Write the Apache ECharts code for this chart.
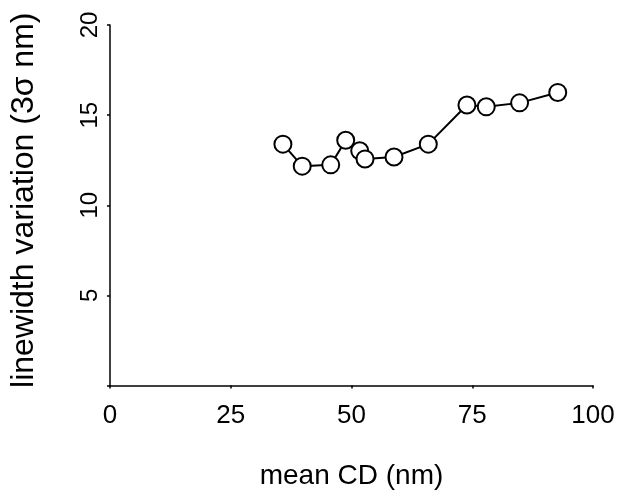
<!DOCTYPE html>
<html>
<head>
<meta charset="utf-8">
<script src="https://cdn.jsdelivr.net/npm/echarts@6/dist/echarts.min.js"></script>
<style>html,body{margin:0;padding:0;background:#fff}#c{width:619px;height:491px}</style>
</head>
<body>
<div id="c"></div>
<script>
var meanCD = [35.8, 39.8, 45.7, 48.8, 51.7, 52.8, 58.8, 65.9, 73.9, 77.9, 84.8, 92.7];
var variation = [13.39, 12.17, 12.24, 13.61, 13.02, 12.57, 12.68, 13.39, 15.56, 15.46, 15.68, 16.26];
var xTicks = [0, 25, 50, 75, 100];
var yTicks = [5, 10, 15, 20];

var pts = meanCD.map(function (x, i) { return [x, variation[i]]; });
var font = '"Liberation Sans", Arial, Helvetica, sans-serif';
var chart = echarts.init(document.getElementById('c'), null, {renderer: 'canvas'});
chart.setOption({
  animation: false,
  backgroundColor: '#fff',
  grid: {left: 110, right: 26, top: 25, bottom: 105.5, containLabel: false, outerBoundsMode: 'none'},
  xAxis: {
    type: 'value', min: 0, max: 100, interval: 25,
    name: 'mean CD (nm)', nameLocation: 'middle', nameGap: 77,
    nameTextStyle: {fontFamily: font, fontSize: 28, color: '#000'},
    axisLine: {show: true, lineStyle: {color: '#000', width: 1.5}},
    axisTick: {show: true, length: 3, lineStyle: {color: '#000', width: 1.5}},
    axisLabel: {fontFamily: font, fontSize: 26, color: '#000', margin: 17,
      formatter: function (v) { return xTicks.indexOf(v) >= 0 ? String(v) : ''; }},
    splitLine: {show: false}
  },
  yAxis: {
    type: 'value', min: 0, max: 20, interval: 5,
    name: 'linewidth variation (3σ nm)', nameLocation: 'middle', nameGap: 70,
    nameTextStyle: {fontFamily: font, fontSize: 32, color: '#000', padding: [0, 0, 0, 10]},
    axisLine: {show: true, lineStyle: {color: '#000', width: 1.5}},
    axisTick: {show: true, length: 3, lineStyle: {color: '#000', width: 1.5}},
    axisLabel: {fontFamily: font, fontSize: 24, color: '#000', margin: 8, rotate: 90,
      formatter: function (v) { return yTicks.indexOf(v) >= 0 ? String(v) : ''; }},
    splitLine: {show: false}
  },
  series: [{
    type: 'line',
    data: pts,
    symbol: 'circle', symbolSize: 17,
    lineStyle: {color: '#000', width: 2},
    itemStyle: {color: '#fff', borderColor: '#000', borderWidth: 2},
    z: 3
  }]
});
</script>
</body>
</html>
